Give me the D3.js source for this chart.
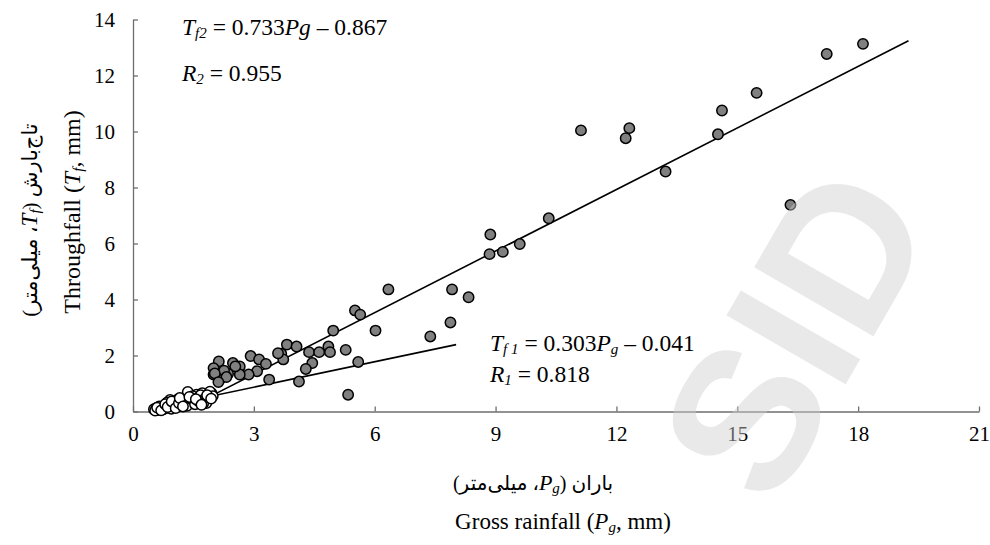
<!DOCTYPE html>
<html>
<head>
<meta charset="utf-8">
<script src="https://cdn.jsdelivr.net/npm/d3@7"></script>
<style>
  body { margin: 0; background: #fff; }
  svg text { font-family: "Liberation Serif", "DejaVu Sans", serif; fill: #000; }
</style>
</head>
<body>
<svg id="chart" width="990" height="545"></svg>
<script>
// canopy throughfall vs gross rainfall
var grayX = [11.12, 12.32, 12.23, 14.62, 14.52, 15.48, 13.22, 16.32, 17.22, 18.12, 10.32,
  6.34, 5.51, 5.64, 4.97, 6.02, 3.82, 4.06, 3.68, 3.73, 4.37, 4.62, 4.85, 4.89, 4.45, 4.29,
  5.28, 5.59, 4.12, 5.34, 3.38, 2.92, 3.13, 3.30, 3.08, 2.87, 2.65, 2.65, 2.48, 2.54, 2.36,
  2.26, 2.13, 2.00, 2.00, 2.15, 2.32, 2.03, 2.12, 3.60,
  7.38, 7.88, 7.92, 8.33, 8.85, 8.87, 9.18, 9.6];
var grayY = [10.04, 10.12, 9.76, 10.75, 9.90, 11.38, 8.57, 7.38, 12.77, 13.13, 6.90,
  4.36, 3.61, 3.46, 2.89, 2.89, 2.39, 2.32, 2.06, 1.86, 2.12, 2.12, 2.32, 2.12, 1.73, 1.52,
  2.20, 1.77, 1.07, 0.60, 1.14, 1.98, 1.86, 1.70, 1.44, 1.32, 1.61, 1.32, 1.73, 1.61, 1.35,
  1.46, 1.79, 1.55, 1.32, 1.13, 1.23, 1.36, 1.05, 2.08,
  2.68, 3.18, 4.36, 4.08, 5.62, 6.32, 5.70, 5.98];

var whiteX = [0.52, 0.58, 0.62, 0.68, 0.72, 0.78, 0.82, 0.88, 0.92, 0.98, 1.02, 1.08, 1.12,
  1.18, 1.22, 1.28, 1.32, 1.38, 1.42, 1.45, 1.50, 1.55, 1.60, 1.65, 1.70, 1.75, 1.80, 1.85,
  1.90, 1.95, 1.00, 1.25, 0.90, 1.35, 1.58, 1.72, 1.36, 1.91, 0.92,
  0.55, 0.65, 0.75, 0.85, 0.95, 1.05, 1.15, 1.20, 1.30, 1.40, 1.48, 1.52, 1.62, 1.68, 1.78,
  1.88, 1.98, 1.10, 1.44, 1.82,
  0.60, 0.70, 0.80, 0.86, 0.96, 1.06, 1.14, 1.26, 1.34, 1.46, 1.54, 1.64, 1.74, 1.84, 1.94,
  1.16, 1.24, 1.40, 1.56, 1.70];
var whiteY = [0.08, 0.12, 0.05, 0.10, 0.15, 0.20, 0.12, 0.25, 0.30, 0.22, 0.35, 0.28, 0.40,
  0.33, 0.45, 0.38, 0.50, 0.42, 0.60, 0.35, 0.48, 0.40, 0.52, 0.30, 0.45, 0.55, 0.62, 0.38,
  0.60, 0.65, 0.18, 0.25, 0.15, 0.28, 0.60, 0.65, 0.70, 0.71, 0.41,
  0.03, 0.18, 0.08, 0.32, 0.10, 0.20, 0.22, 0.30, 0.40, 0.30, 0.55, 0.32, 0.42, 0.58, 0.45,
  0.50, 0.55, 0.42, 0.48, 0.30,
  0.14, 0.04, 0.26, 0.16, 0.36, 0.12, 0.30, 0.36, 0.20, 0.44, 0.26, 0.36, 0.28, 0.58, 0.46,
  0.48, 0.18, 0.52, 0.44, 0.24];

// regression lines: Tf1 (small events), Tf2 (large events)
var fitSlope = [0.303, 0.733];
var fitIntercept = [-0.041, -0.867];
var fitStart = [0.6, 1.3];
var fitEnd = [8.02, 19.25];

var xTicks = [0, 3, 6, 9, 12, 15, 18, 21];
var yTicks = [0, 2, 4, 6, 8, 10, 12, 14];

var svg = d3.select("#chart");
var x = d3.scaleLinear().domain([0, 21]).range([133, 979]);
var y = d3.scaleLinear().domain([0, 14]).range([411.5, 19.5]);

var axisColor = "#6e6e6e";
var serif = "Liberation Serif";

var gx = svg.append("g")
  .attr("transform", "translate(0," + y(0) + ")")
  .call(d3.axisBottom(x).tickValues(xTicks).tickSizeInner(-5).tickSizeOuter(0).tickPadding(15));
var gy = svg.append("g")
  .attr("transform", "translate(" + x(0) + ",0)")
  .call(d3.axisLeft(y).tickValues(yTicks).tickSizeInner(-5).tickSizeOuter(0).tickPadding(18));
[gx, gy].forEach(function (g) {
  g.attr("font-family", null);
  g.select(".domain").attr("stroke", axisColor).attr("stroke-width", 1.3);
  g.selectAll(".tick line").attr("stroke", axisColor).attr("stroke-width", 1.3);
  g.selectAll(".tick text").style("font-size", "21px").style("font-family", serif);
});

// fit lines
var line = d3.line().x(function (d) { return x(d[0]); }).y(function (d) { return y(d[1]); });
fitSlope.forEach(function (s, i) {
  var pts = [fitStart[i], fitEnd[i]].map(function (v) { return [v, s * v + fitIntercept[i]]; });
  svg.append("path").attr("d", line(pts))
    .attr("fill", "none").attr("stroke", "#000").attr("stroke-width", 1.6);
});

// points
svg.append("g").selectAll("circle")
  .data(grayX.map(function (v, i) { return [v, grayY[i]]; }))
  .join("circle")
    .attr("cx", function (d) { return x(d[0]); })
    .attr("cy", function (d) { return y(d[1]); })
    .attr("r", 5.2)
    .attr("fill", "#808080").attr("stroke", "#000").attr("stroke-width", 1.5);
svg.append("g").selectAll("circle")
  .data(whiteX.map(function (v, i) { return [v, whiteY[i]]; }))
  .join("circle")
    .attr("cx", function (d) { return x(d[0]); })
    .attr("cy", function (d) { return y(d[1]); })
    .attr("r", 5.2)
    .attr("fill", "#fff").attr("stroke", "#000").attr("stroke-width", 1.5);

// equations
function eq(xp, yp, parts) {
  var t = svg.append("text").attr("x", xp).attr("y", yp).style("font-size", "23.5px");
  parts.forEach(function (p) {
    var s = t.append("tspan").text(p[0]);
    if (p[1] == "i") s.attr("font-style", "italic");
    if (p[1] == "sub") s.attr("font-style", "italic").style("font-size", "15px").attr("dy", 3);
    if (p[1] == "back") s.attr("dy", -3);
  });
}
eq(182, 35, [["T", "i"], ["f2", "sub"], [" = 0.733", "back"], ["Pg", "i"], [" \u2013 0.867"]]);
eq(182, 81, [["R", "i"], ["2", "sub"], [" = 0.955", "back"]]);
eq(490, 351, [["T", "i"], ["f 1", "sub"], [" = 0.303", "back"], ["P", "i"], ["g", "sub"], [" \u2013 0.041", "back"]]);
eq(490, 382, [["R", "i"], ["1", "sub"], [" = 0.818", "back"]]);

// axis titles
var xt = svg.append("text").attr("x", 563).attr("y", 529).attr("text-anchor", "middle").style("font-size", "23px");
xt.append("tspan").text("Gross rainfall (");
xt.append("tspan").text("P").attr("font-style", "italic");
xt.append("tspan").text("g").attr("font-style", "italic").style("font-size", "15px").attr("dy", 3);
xt.append("tspan").text(", mm)").attr("dy", -3);

var xp = svg.append("text").attr("x", 533).attr("y", 490).attr("text-anchor", "middle")
  .attr("direction", "rtl").style("font-size", "20px");
xp.append("tspan").text("باران (");
xp.append("tspan").text("P").attr("font-style", "italic").style("font-family", serif).style("font-size", "22px");
xp.append("tspan").text("g").attr("font-style", "italic").style("font-family", serif).style("font-size", "15px").attr("dy", 3);
xp.append("tspan").text("، میلی‌متر)").attr("dy", -3);

var yt = svg.append("text").attr("transform", "translate(80,212) rotate(-90)")
  .attr("text-anchor", "middle").style("font-size", "24px");
yt.append("tspan").text("Throughfall (");
yt.append("tspan").text("T").attr("font-style", "italic");
yt.append("tspan").text("f").attr("font-style", "italic").style("font-size", "15px").attr("dy", 3);
yt.append("tspan").text(", mm)").attr("dy", -3);

var yp = svg.append("text").attr("transform", "translate(37,220) rotate(-90)")
  .attr("text-anchor", "middle").attr("direction", "rtl").style("font-size", "21px");
yp.append("tspan").text("تاج‌بارش (");
yp.append("tspan").text("T").attr("font-style", "italic").style("font-family", serif).style("font-size", "23px");
yp.append("tspan").text("f").attr("font-style", "italic").style("font-family", serif).style("font-size", "15px").attr("dy", 3);
yp.append("tspan").text("، میلی‌متر)").attr("dy", -3);

// watermark
svg.append("text").attr("transform", "translate(795,332) rotate(-60)")
  .attr("text-anchor", "middle").attr("dy", "0.35em")
  .style("font-family", "Liberation Sans").attr("font-weight", "bold").style("font-size", "200px")
  .style("fill", "#cfcfcf").attr("opacity", 0.45)
  .text("SID");
</script>
</body>
</html>
